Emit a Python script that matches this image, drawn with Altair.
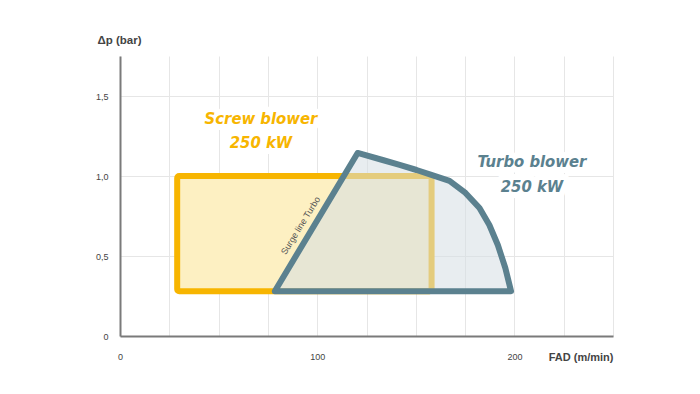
import altair as alt
import pandas as pd

# Axis grid values
x_grid = [0, 25, 50, 75, 100, 125, 150, 175, 200, 225, 250]
y_grid = [0, 0.25, 0.5, 0.75, 1.0, 1.25, 1.5, 1.75]

# Screw blower operating range (rectangle)
screw_x = [29]
screw_x2 = [158]
screw_y = [1.0]
screw_y2 = [0.28]

# Turbo blower operating envelope
turbo_x = [78.5, 120.5, 133.2, 141.8, 150.4, 157.5, 167.1, 175.2, 182.3, 187.3, 191.6, 195.4, 198.3]
turbo_y = [0.28, 1.144, 1.10, 1.069, 1.0375, 1.009, 0.969, 0.894, 0.80, 0.694, 0.569, 0.425, 0.28]
turbo_base = 0.28

# Annotations
screw_lbl_x = [71.5, 71.5]
screw_lbl_y = [1.356, 1.206]
screw_lbl_t = ["Screw blower", "250 kW"]
turbo_lbl_x = [208.9, 208.9]
turbo_lbl_y = [1.0875, 0.931]
turbo_lbl_t = ["Turbo blower", "250 kW"]
surge_x = [91.6]
surge_y = [0.69]
surge_t = ["Surge line Turbo"]

YELLOW = "#f7b500"
TEAL = "#5b818f"
FONT = "Liberation Sans"
COND = "DejaVu Sans Condensed"

xs = alt.Scale(domain=[0, 250], nice=False)
ys = alt.Scale(domain=[0, 1.75], nice=False)

x_axis = alt.Axis(
    values=x_grid, format="d",
    labelExpr="datum.value % 100 === 0 ? datum.label : ''",
    labelFlush=False,
    grid=True, gridColor="#e6e6e6", gridWidth=1,
    domainColor="#7a7a7a", domainWidth=2, ticks=False, tickSize=0,
    labelPadding=16, labelFontSize=9, labelColor="#444", labelFont=FONT,
    title="FAD (m/min)", titleX=493, titleY=21, titleAlign="right",
    titleBaseline="middle", titleFontSize=11, titleFontWeight="bold",
    titleColor="#444", titleFont=FONT,
)
y_axis = alt.Axis(
    values=y_grid,
    labelExpr="datum.value === 0 ? '0' : (abs(datum.value*2 - round(datum.value*2)) < 0.001 ? replace(format(datum.value, '.1f'), '.', ',') : '')",
    labelFlush=False,
    grid=True, gridColor="#e6e6e6", gridWidth=1,
    domainColor="#7a7a7a", domainWidth=2, ticks=False, tickSize=0,
    labelPadding=12, labelFontSize=9, labelColor="#444", labelFont=FONT,
    title="Δp (bar)", titleAngle=0, titleX=-23, titleY=-16, titleAlign="left",
    titleBaseline="middle", titleFontSize=11.5, titleFontWeight="bold",
    titleColor="#444", titleFont=FONT,
)

screw_df = pd.DataFrame({"x": screw_x, "x2": screw_x2, "y": screw_y, "y2": screw_y2})
screw = alt.Chart(screw_df).mark_rect(
    fill="#fdf0c2", stroke=YELLOW, strokeWidth=6, strokeJoin="round", cornerRadius=2
).encode(
    x=alt.X("x:Q", scale=xs, axis=x_axis), x2="x2",
    y=alt.Y("y:Q", scale=ys, axis=y_axis), y2="y2",
)

turbo_df = pd.DataFrame({"x": turbo_x, "y": turbo_y, "y2": [turbo_base] * len(turbo_x)})
turbo = alt.Chart(turbo_df).mark_area(
    fill="#d5dfe3", fillOpacity=0.55, stroke=TEAL, strokeWidth=6,
    strokeJoin="round", strokeCap="round", interpolate="linear"
).encode(
    x=alt.X("x:Q", scale=xs), y=alt.Y("y:Q", scale=ys), y2="y2"
)

def labels(xv, yv, tv, color):
    df = pd.DataFrame({"x": xv, "y": yv, "t": tv})
    base = alt.Chart(df).encode(
        x=alt.X("x:Q", scale=xs), y=alt.Y("y:Q", scale=ys), text="t:N"
    )
    halo = base.mark_text(
        font=COND, fontSize=16.5, fontWeight="bold", fontStyle="italic",
        fill="white", stroke="white", strokeWidth=12, strokeJoin="round"
    )
    txt = base.mark_text(
        font=COND, fontSize=16.5, fontWeight="bold", fontStyle="italic", fill=color
    )
    return halo, txt

sh, st = labels(screw_lbl_x, screw_lbl_y, screw_lbl_t, YELLOW)
th, tt = labels(turbo_lbl_x, turbo_lbl_y, turbo_lbl_t, TEAL)

surge_df = pd.DataFrame({"x": surge_x, "y": surge_y, "t": surge_t})
surge = alt.Chart(surge_df).mark_text(
    font=FONT, fontSize=9, angle=301.7, fill="#555"
).encode(x=alt.X("x:Q", scale=xs), y=alt.Y("y:Q", scale=ys), text="t:N")

chart = alt.layer(sh, th, screw, turbo, st, tt, surge).properties(
    width=493, height=280,
    autosize=alt.AutoSizeParams(type="none"),
    padding={"left": 112, "top": 48, "right": 79, "bottom": 40},
    background="white",
).configure_view(stroke=None)

chart.save("out.html", embed_options={"renderer": "svg", "actions": False})
